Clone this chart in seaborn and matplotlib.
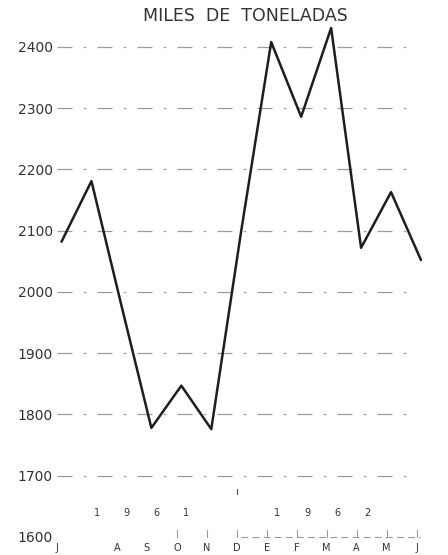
import matplotlib
matplotlib.use("Agg")
import matplotlib.pyplot as plt
import seaborn as sns
import numpy as np
import pandas as pd

# ---- data ----
months = ["J", "J", "A", "S", "O", "N", "D", "E", "F", "M", "A", "M", "J"]
month_labels = ["J", "", "A", "S", "O", "N", "D", "E", "F", "M", "A", "M", "J"]
tonnes = [2082, 2181, 1978, 1778, 1847, 1776, 2100, 2408, 2286, 2431, 2072, 2163, 2052]
y_ticks = [1600, 1700, 1800, 1900, 2000, 2100, 2200, 2300, 2400]
year1_digits = ["1", "9", "6", "1"]
year2_digits = ["1", "9", "6", "2"]
title = "MILES  DE  TONELADAS"

sns.set_theme(style="white")
plt.rcParams["font.family"] = ["DejaVu Sans"]

df = pd.DataFrame({"idx": np.arange(len(months)), "value": tonnes})

fig = plt.figure(figsize=(4.48, 5.55), dpi=100)
ax = fig.add_axes([57 / 448, 1 - 540 / 555, 364 / 448, 520 / 555])
ax.set_xlim(0, 12)
ax.set_ylim(1595, 2444)

# grid lines (dash-dot, gray, sparse as in the scan)
for v in y_ticks[1:]:
    ax.axhline(v, xmin=0.0, xmax=0.985, color="#9a9a9a", lw=0.9,
               dashes=(12, 9, 2, 9), zorder=1)

sns.lineplot(data=df, x="idx", y="value", ax=ax, color="#1e1e1e", lw=1.8,
             zorder=3, clip_on=False)

# partial baseline and small ticks near 1600
ax.plot([6, 12], [1600, 1600], color="#9a9a9a", lw=0.8, dashes=(6, 4), zorder=1)
for i in range(4, 13):
    ax.plot([i - 0.15, i - 0.15], [1600, 1612], color="#9a9a9a", lw=0.8, zorder=1)
ax.plot([5.85, 5.85], [1670, 1678], color="#555555", lw=0.9)

# axis ticks
ax.set_yticks(y_ticks)
ax.set_yticklabels([str(v) for v in y_ticks], fontsize=10, color="#333333")
ax.set_xticks(np.arange(len(months)) - 0.15)
ax.set_xticklabels(month_labels, fontsize=7, color="#333333")
ax.tick_params(axis="y", length=0, pad=3)
ax.tick_params(axis="x", length=0, pad=2)
for s in ax.spines.values():
    s.set_visible(False)
ax.set_xlabel("")
ax.set_ylabel("")

# year digits
for k, d in enumerate(year1_digits):
    ax.text(1 + k + 0.17, 1639, d, fontsize=7, color="#333333", ha="center", va="center")
for k, d in enumerate(year2_digits):
    ax.text(7 + k + 0.2, 1639, d, fontsize=7, color="#333333", ha="center", va="center")

fig.text(245 / 448, 1 - 16 / 555, title, fontsize=12.5, color="#333333",
         ha="center", va="center")

fig.savefig("out.png", dpi=100, facecolor="white")
